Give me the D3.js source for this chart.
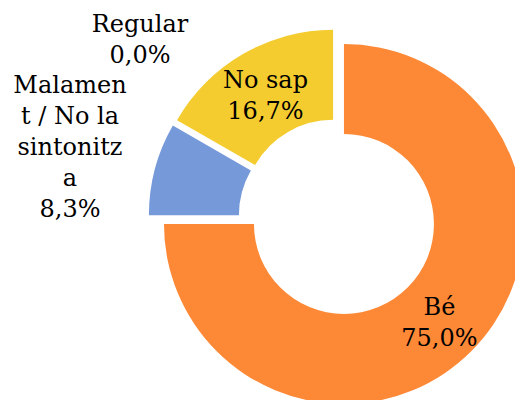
<!DOCTYPE html>
<html>
<head>
<meta charset="utf-8">
<script src="https://cdn.jsdelivr.net/npm/d3@7"></script>
<style>
  body { margin: 0; background: #fff; }
  svg { display: block; }
  .lbl { font-family: "DejaVu Serif", serif; font-size: 24px; fill: #000; }
</style>
</head>
<body>
<div id="chart"></div>
<script>
// Donut chart data (survey answers)
const categories = ['Bé', 'Malament / No la sintonitza', 'Regular', 'No sap'];
const values = [75.0, 8.3, 0.0, 16.7];
const colors = ['#fd8937', '#7699d9', '#a5a5a5', '#f4cc2f'];
// how each label is broken into lines (as in the original)
const labelLines = [
  ['Bé', '75,0%'],
  ['Malamen', 't / No la', 'sintonitz', 'a', '8,3%'],
  ['Regular', '0,0%'],
  ['No sap', '16,7%']
];

const width = 515, height = 400;
const cx = 337.6, cy = 217.6;
const outerR = 180, innerR = 90, explode = 9, lineH = 31;

const svg = d3.select('#chart').append('svg')
  .attr('width', width)
  .attr('height', height);

const g = svg.append('g').attr('transform', `translate(${cx},${cy})`);

const data = categories.map((c, i) => ({ name: c, value: values[i], i }));

const pie = d3.pie().sort(null).value(d => d.value).startAngle(0).endAngle(2 * Math.PI);
const arc = d3.arc().innerRadius(innerR).outerRadius(outerR);
const arcs = pie(data);

function shift(d, r) {
  const a = (d.startAngle + d.endAngle) / 2;
  return [Math.sin(a) * r, -Math.cos(a) * r];
}

g.selectAll('path.slice')
  .data(arcs)
  .enter()
  .append('path')
  .attr('class', 'slice')
  .attr('transform', d => `translate(${shift(d, explode)})`)
  .attr('d', arc)
  .style('fill', d => colors[d.data.i]);

// labels: inside ones at the centroid, outside ones placed to the left
const outside = { 1: [-267.6, -72], 2: [-197.6, -179] };

const labels = g.selectAll('text.lbl')
  .data(arcs)
  .enter()
  .append('text')
  .attr('class', 'lbl')
  .attr('text-anchor', 'middle')
  .attr('transform', d => {
    let p;
    if (outside[d.data.i]) p = outside[d.data.i];
    else {
      const c = arc.centroid(d);
      const s = shift(d, explode);
      p = [c[0] + s[0], c[1] + s[1] + 2];
    }
    return `translate(${p})`;
  });

labels.each(function (d) {
  const lines = labelLines[d.data.i];
  const t = d3.select(this);
  lines.forEach((l, k) => {
    t.append('tspan')
      .attr('x', 0)
      .attr('y', (k - (lines.length - 1) / 2) * lineH + 9)
      .text(l);
  });
});
</script>
</body>
</html>
